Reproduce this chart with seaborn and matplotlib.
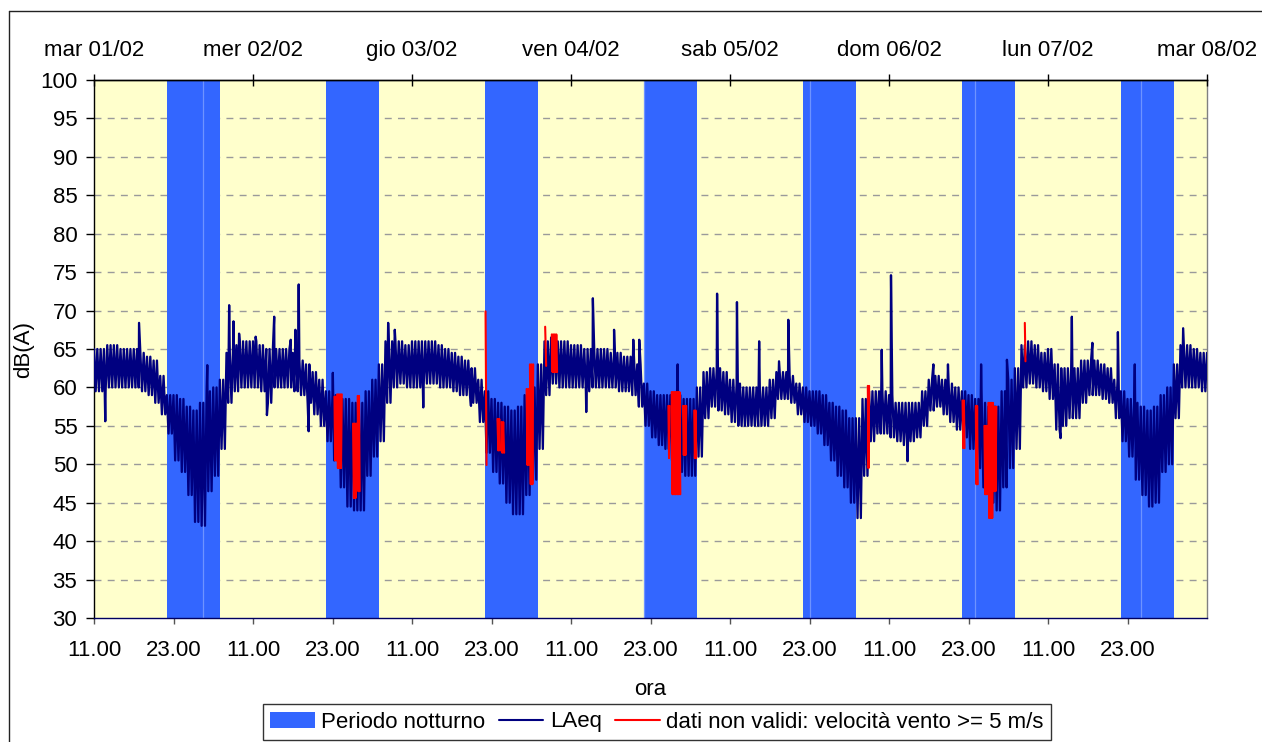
import numpy as np
import pandas as pd
import matplotlib
matplotlib.use("Agg")
import matplotlib.pyplot as plt
import seaborn as sns
from matplotlib.patches import Patch
from matplotlib.lines import Line2D

# ---------------- data (hours since mar 01/02 11.00) ----------------
day_labels = ["mar 01/02", "mer 02/02", "gio 03/02", "ven 04/02",
              "sab 05/02", "dom 06/02", "lun 07/02", "mar 08/02"]
hour_labels = ["11.00", "23.00"] * 7

night_start = [11, 35, 59, 83, 107, 131, 155]
night_len = 8
band_seams = [16.45, 83.0, 108.0, 133.0, 158.0]

# hourly upper / lower envelope of LAeq (dB(A)), hours 0..168
laeq_hi = [
    65, 65, 65.5, 65.5, 65, 65, 65, 64.5, 64, 63.5, 61.5, 59,
    59, 58.5, 57.5, 57, 58, 59.5, 60, 61, 64.5, 65.5, 66, 66,
    66, 65.5, 65, 65, 65, 65, 64.5, 63.5, 63, 62, 61, 59.5,
    59, 58.5, 58.5, 58, 58, 59.5, 61, 63, 66, 66, 66, 65.5,
    66, 66, 66, 66, 65.5, 65, 64.5, 64, 63.5, 62.5, 61, 59.5,
    58.5, 58, 57.5, 57, 57.5, 59, 60, 63, 66, 66.5, 66, 66,
    65.5, 65.5, 65, 65, 65, 65, 64.5, 64.5, 64, 64, 63, 60.5,
    59.5, 59, 59, 59, 59, 58.5, 58.5, 60, 62, 62.5, 62.5, 62,
    61, 60.5, 60, 60, 60, 60, 61, 62, 62, 61.5, 60.5, 60,
    59.5, 59.5, 59, 58, 57.5, 57, 56, 56, 58.5, 59.5, 59.5, 59.5,
    59, 58, 58, 58, 58, 59.5, 61, 61.5, 61, 60.5, 60, 59.5,
    59, 58.5, 58, 57.5, 57.5, 59.5, 61, 62.5, 65.5, 66, 65.5, 64.5,
    65, 63, 62.5, 62.5, 62.5, 63.5, 63.5, 63.5, 63, 62.5, 61, 59.5,
    58.5, 58, 57.5, 57, 57.5, 59, 60, 63, 65.5, 65.5, 65, 64.5,
    64.5]
laeq_lo = [
    59.5, 59.5, 60, 60, 60, 60, 60, 59.5, 59, 58, 56.5, 54,
    50.5, 49, 46, 42.5, 42, 46.5, 48.5, 52, 58, 59.5, 60, 60,
    60, 59.5, 58, 60, 60, 60, 59.5, 59, 58, 56.5, 55, 53,
    50.5, 47, 44.5, 44, 44, 48.5, 51, 53, 58, 60, 60.5, 60,
    60, 60, 60.5, 60.5, 60, 60, 59.5, 59, 59, 58, 55.5, 51.5,
    49, 47.5, 45, 43.5, 43.5, 46, 48, 52, 59, 60.5, 60, 60,
    60, 60, 59.5, 60, 60, 60, 60, 59.5, 59.5, 59, 57.5, 55,
    53.5, 52.5, 52, 50.5, 49, 48.5, 48.5, 51, 56, 57.5, 57, 56.5,
    55.5, 55, 55, 55, 55, 55, 56, 58.5, 58.5, 58, 56.5, 55.5,
    55, 54, 52.5, 50.5, 48.5, 47, 45, 43, 48.5, 53, 54, 54,
    53.5, 53, 52.5, 53, 53.5, 55, 57, 57.5, 56.5, 55.5, 54.5, 53.5,
    52, 49.5, 47, 45, 44, 47, 49.5, 52, 60, 60.5, 60, 59.5,
    58.5, 54.5, 55, 56, 56, 58, 59, 59, 58.5, 58, 56, 53,
    51, 48, 46, 44.5, 45, 49, 50, 56, 60, 60, 60, 59.5,
    59]

# isolated peaks / dips of LAeq
spike_t = [1.7, 6.8, 17.1, 20.4, 21.05, 21.9, 24.4, 26.1, 27.2, 29.7, 30.4, 30.9,
           32.4, 36.05, 44.4, 45.4, 49.7, 56.9, 74.3, 75.3, 78.5, 81.4, 82.3, 88.1,
           94.05, 97.05, 100.4, 103.4, 104.8, 118.9, 120.3, 122.8, 126.7, 128.9,
           133.9, 137.8, 145.9, 147.6, 150.7, 154.55, 157.1, 164.4]
spike_v = [55.6, 68.4, 62.9, 70.7, 68.6, 67.0, 66.6, 56.4, 69.2, 66.2, 67.5, 73.4,
           54.3, 61.9, 68.4, 67.5, 57.4, 57.6, 56.8, 71.6, 67.5, 66.2, 66.2, 63.0,
           72.2, 71.1, 66.0, 63.4, 68.8, 64.9, 74.6, 50.4, 63.0, 63.0,
           63.0, 63.6, 53.4, 69.2, 65.8, 67.2, 63.0, 67.7]

# invalid data (wind >= 5 m/s): time span and value range
red_t0 = [36.3, 36.7, 39.1, 39.8, 59.1, 60.9, 61.5, 65.3, 65.8, 68.1, 69.1,
          86.7, 87.2, 88.9, 90.6, 116.8, 131.1, 133.1, 134.4, 135.0, 135.7, 140.5]
red_t1 = [36.6, 37.4, 39.6, 40.1, 59.25, 61.3, 61.9, 65.7, 66.3, 68.25, 69.9,
          86.9, 88.5, 89.4, 90.9, 117.0, 131.4, 133.4, 135.0, 135.7, 136.2, 140.6]
red_lo = [50.5, 49.5, 45.6, 46.5, 49.9, 51.8, 51.5, 49.9, 47.4, 62.8, 62.0,
          50.8, 46.1, 51.2, 50.8, 49.5, 52.1, 47.4, 46.1, 43.0, 46.5, 63.4]
red_hi = [58.8, 59.1, 55.3, 58.9, 69.9, 55.9, 55.5, 59.8, 63.0, 67.9, 66.9,
          57.6, 59.4, 57.6, 57.0, 60.2, 58.3, 57.6, 55.0, 58.0, 57.5, 68.4]

# ---------------- build plotting tables ----------------
xs, ys = [], []
for h in range(len(laeq_hi)):
    if h < len(laeq_hi) - 1:
        xs += [h, h + 0.25, h + 0.5, h + 0.75]
        ys += [laeq_hi[h], laeq_lo[h], laeq_hi[h], laeq_lo[h]]
    else:
        xs.append(h)
        ys.append(laeq_hi[h])
xs += spike_t
ys += spike_v
laeq_df = pd.DataFrame({"t": xs, "v": ys}).sort_values("t", kind="mergesort")

rt, rv, rs = [], [], []
for i, (a, b, lo, hi) in enumerate(zip(red_t0, red_t1, red_lo, red_hi)):
    n = max(2, int(round((b - a) / 0.12)) + 1)
    for j, t in enumerate(np.linspace(a, b, n)):
        rt.append(t)
        rv.append(hi if j % 2 == 0 else lo)
        rs.append(i)
red_df = pd.DataFrame({"t": rt, "v": rv, "seg": rs})

# ---------------- style ----------------
sns.set_theme(style="ticks", rc={"text.color": "black", "axes.labelcolor": "black",
                                 "xtick.color": "black", "ytick.color": "black"})
plt.rcParams["font.family"] = ["Liberation Sans", "DejaVu Sans"]

W, H = 1262, 742
fig = plt.figure(figsize=(W / 100, H / 100), dpi=100)
fig.patch.set_facecolor("white")
ax = fig.add_axes([94 / W, 1 - 618 / H, 1113 / W, 538 / H])
ax.set_facecolor("#FFFFCC")
ax.set_xlim(0, 168)
ax.set_ylim(30, 100)

for yv in range(35, 100, 5):
    ax.axhline(yv, color="#9a9a9a", lw=1.0, ls=(0, (5, 4.5)), zorder=0.5)

for s in night_start:
    ax.axvspan(s, s + night_len, color="#3366FF", lw=0, zorder=1)
for s in band_seams:
    ax.axvline(s, color="#6E93FF", lw=0.9, zorder=1.1)

sns.lineplot(data=laeq_df, x="t", y="v", sort=False, estimator=None,
             color="#000080", lw=1.65, ax=ax, zorder=3)
sns.lineplot(data=red_df, x="t", y="v", units="seg", sort=False, estimator=None,
             color="#FF0000", lw=1.5, ax=ax, zorder=4)

ax.set_xticks(range(0, 157, 12))
ax.set_xticklabels(hour_labels)
ax.set_yticks(range(30, 101, 5))
ax.tick_params(axis="x", direction="out", length=4.5, width=1, color="#555555",
               pad=11, labelsize=16)
ax.tick_params(axis="y", direction="out", length=6, width=1, color="black",
               pad=6, labelsize=16)

ax.set_xlabel("ora", fontsize=16)
ax.xaxis.set_label_coords(0.5, -0.1143)
ax.set_ylabel("dB(A)", fontsize=16)
ax.yaxis.set_label_coords(-0.0535, 0.5)

for side, col in [("left", "black"), ("bottom", "#000060"), ("top", "black"),
                  ("right", "#808080")]:
    ax.spines[side].set_visible(True)
    ax.spines[side].set_color(col)
    ax.spines[side].set_linewidth(1.0)

ax2 = ax.twiny()
ax2.set_xlim(0, 168)
ax2.set_xticks(range(0, 169, 24))
ax2.set_xticklabels(day_labels)
ax2.tick_params(axis="x", direction="inout", length=9, width=1, color="black",
                pad=9, labelsize=16)
for side in ["left", "right", "bottom"]:
    ax2.spines[side].set_visible(False)
ax2.spines["top"].set_color("black")
ax2.spines["top"].set_linewidth(1.0)

handles = [Patch(facecolor="#3366FF", edgecolor="none"),
           Line2D([0], [0], color="#000080", lw=1.5),
           Line2D([0], [0], color="#FF0000", lw=1.5)]
labels = ["Periodo notturno", "LAeq", "dati non validi: velocità vento >= 5 m/s"]
leg = fig.legend(handles, labels, loc="center",
                 bbox_to_anchor=(657 / W, 1 - 722 / H), ncol=3, frameon=True,
                 fancybox=False, edgecolor="black", fontsize=16,
                 handlelength=2.0, handletextpad=0.3, columnspacing=0.6,
                 borderpad=0.35, borderaxespad=0)
leg.get_frame().set_linewidth(1.0)

# outer chart frame (left and top edges visible)
fig.add_artist(Line2D([9 / W, 9 / W], [0, 1 - 11 / H], transform=fig.transFigure,
                      color="#222222", lw=1.0))
fig.add_artist(Line2D([9 / W, 1], [1 - 11 / H, 1 - 11 / H], transform=fig.transFigure,
                      color="#222222", lw=1.0))

fig.savefig("out.png", dpi=100, facecolor="white")
